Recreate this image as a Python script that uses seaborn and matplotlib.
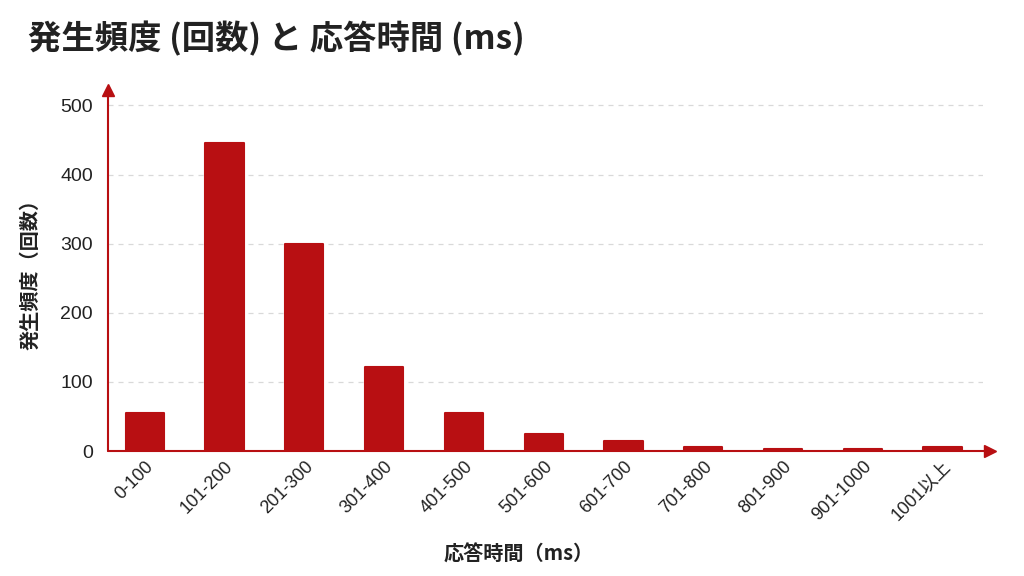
import pandas as pd
import numpy as np
import seaborn as sns
import matplotlib.pyplot as plt

# データ
bins = ['0-100', '101-200', '201-300', '301-400', '401-500', '501-600',
        '601-700', '701-800', '801-900', '901-1000', '1001以上']
counts = [55, 445, 300, 122, 55, 25, 15, 6, 3, 3, 6]
yticks = [0, 100, 200, 300, 400, 500]

red = '#B80F12'

sns.set_theme(style='white')
plt.rcParams['font.family'] = ['Liberation Sans', 'Noto Sans CJK JP']

df = pd.DataFrame({'bin': bins, 'count': counts})

fig = plt.figure(figsize=(10.24, 5.76), dpi=100)
ax = fig.add_axes([0.1055, 0.217, 0.854, 0.63])

sns.barplot(data=df, x='bin', y='count', color=red, width=0.48, saturation=1,
            edgecolor=red, linewidth=1.5, ax=ax)
for p in ax.patches:
    p.set_joinstyle('round')

ax.set_ylim(0, 525)
ax.set_xlim(-0.46, len(bins) - 0.5)
ax.set_yticks(yticks)
for y in yticks[1:]:
    ax.axhline(y, color='#d9d9d9', lw=0.9, ls=(0, (4, 4)), zorder=0)

for s in ax.spines.values():
    s.set_visible(False)

# 軸の矢印
ax.plot([0, 1.008], [0, 0], color=red, lw=1.5, transform=ax.transAxes, clip_on=False)
ax.plot([1.008], [0], marker='>', color=red, ms=8, transform=ax.transAxes, clip_on=False)
ax.plot([0, 0], [0, 0.995], color=red, lw=1.5, transform=ax.transAxes, clip_on=False)
ax.plot([0], [0.995], marker='^', color=red, ms=8, transform=ax.transAxes, clip_on=False)

ax.tick_params(axis='y', labelsize=14, length=0, pad=11, colors='#222222')
ax.tick_params(axis='x', labelsize=13, length=0, pad=5, colors='#222222')
plt.setp(ax.get_xticklabels(), rotation=45, ha='right', rotation_mode='anchor')

ax.set_xlabel('応答時間（ms）', fontsize=14.5, fontweight='bold', color='#222222',
              family=['Noto Sans CJK JP'], labelpad=14, x=0.47)
ax.set_ylabel('発生頻度（回数）', fontsize=14.5, fontweight='bold', color='#222222',
              family=['Noto Sans CJK JP'], labelpad=14)

fig.text(0.027, 0.932, '発生頻度 (回数) と 応答時間 (ms)', fontsize=24, fontweight='bold',
         color='#222222', family=['Noto Sans CJK JP'], va='center', ha='left')

fig.savefig('out.png', dpi=100, facecolor='white')
